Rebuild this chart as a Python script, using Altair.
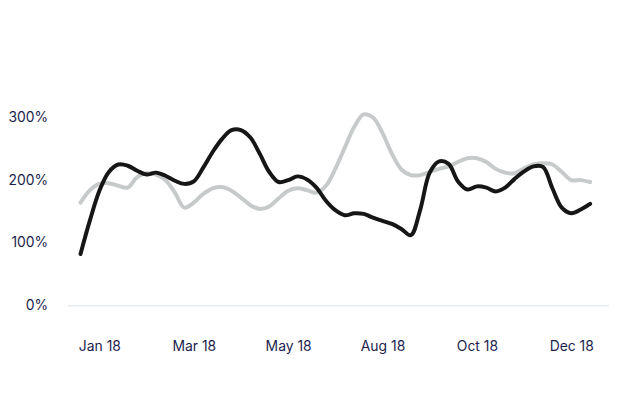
import altair as alt
import pandas as pd

# weekly index positions (0 = first week of the series)
black_values = [82, 136, 183, 213, 225, 223, 215, 209, 212, 207,
                199, 194, 198, 220, 245, 266, 280, 280, 268, 242,
                213, 197, 200, 206, 201, 188, 167, 152, 144, 147,
                146, 140, 135, 130, 122, 112, 153, 212, 230, 226,
                198, 185, 190, 188, 182, 188, 202, 214, 222, 221,
                187, 156, 147, 153, 162]
gray_values = [164, 184, 194, 195, 191, 188, 205, 211, 209, 200,
               180, 156, 164, 178, 187, 189, 183, 172, 160, 154,
               158, 171, 183, 187, 184, 180, 191, 218, 252, 285,
               305, 300, 275, 242, 217, 208, 208, 213, 218, 222,
               229, 235, 235, 229, 218, 212, 211, 219, 225, 227,
               225, 213, 200, 200, 197]

tick_positions = [2, 12, 22, 32, 42, 52]
tick_labels = ["Jan 18", "Mar 18", "May 18", "Aug 18", "Oct 18", "Dec 18"]
y_ticks = [0, 100, 200, 300]

series_names = ["Comparison", "Actual"]
series_colors = ["#c6cacb", "#161616"]

rows = []
for i, v in enumerate(gray_values):
    rows.append({"week": i, "value": v, "series": series_names[0], "order": 0})
for i, v in enumerate(black_values):
    rows.append({"week": i, "value": v, "series": series_names[1], "order": 1})
df = pd.DataFrame(rows)

label_expr = "[" + ",".join(f"'{t}'" for t in tick_labels) + "][indexof([" + \
    ",".join(str(p) for p in tick_positions) + "], datum.value)]"

text_color = "#1d1e4e"
font = "Inter"

chart = alt.Chart(df).mark_line(
    interpolate="catmull-rom", strokeWidth=4, strokeCap="round", strokeJoin="round"
).encode(
    x=alt.X("week:Q",
            scale=alt.Scale(domain=[-1.37, 56], nice=False, zero=False),
            axis=alt.Axis(values=tick_positions, labelExpr=label_expr, title=None,
                          grid=False, ticks=False, tickSize=0, domain=True,
                          domainColor="#d9e0ee", domainWidth=1,
                          labelPadding=35, labelFontSize=14, labelFont=font,
                          labelColor=text_color, labelFlush=False)),
    y=alt.Y("value:Q",
            scale=alt.Scale(domain=[0, 400], nice=False),
            axis=alt.Axis(values=y_ticks, labelExpr="datum.value + '%'", title=None,
                          grid=False, ticks=False, tickSize=0, domain=False,
                          labelPadding=20, labelFontSize=14, labelFont=font,
                          labelColor=text_color, labelBaseline="middle")),
    color=alt.Color("series:N",
                    scale=alt.Scale(domain=series_names, range=series_colors),
                    legend=None),
    order=alt.Order("order:Q"),
    detail="series:N",
).properties(
    width=545,
    height=252,
    autosize=alt.AutoSizeParams(type="none"),
    padding={"left": 60, "top": 46, "right": 0, "bottom": 86},
).configure_view(stroke=None)

chart.save("out.html", embed_options={"renderer": "svg", "actions": False})
